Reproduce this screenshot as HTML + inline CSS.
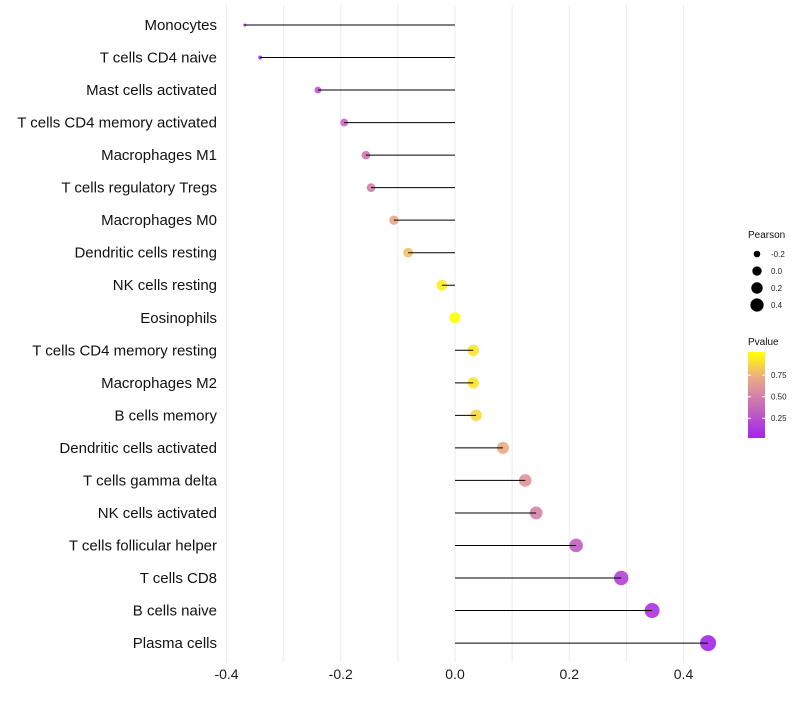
<!DOCTYPE html>
<html><head><meta charset="utf-8"><style>
body{margin:0;background:#fff;font-family:"Liberation Sans",sans-serif}
svg text{font-family:"Liberation Sans",sans-serif}
</style></head><body>
<svg id="chart" width="800" height="700" xmlns="http://www.w3.org/2000/svg">
<g id="grid"></g>
<g id="dots"></g>
<g id="marks"></g>
<g id="ylab"></g>
<g id="xlab"></g>
<g id="legend"></g>
</svg>
<script>
const categories=["Monocytes","T cells CD4 naive","Mast cells activated","T cells CD4 memory activated","Macrophages M1","T cells regulatory  Tregs","Macrophages M0","Dendritic cells resting","NK cells resting","Eosinophils","T cells CD4 memory resting","Macrophages M2","B cells memory","Dendritic cells activated","T cells gamma delta","NK cells activated","T cells follicular helper","T cells CD8","B cells naive","Plasma cells"];
const pearson=[-0.368,-0.341,-0.240,-0.194,-0.156,-0.147,-0.107,-0.082,-0.023,0.0,0.032,0.032,0.037,0.084,0.123,0.142,0.212,0.291,0.345,0.443];
const pvalues=[0.03,0.08,0.3,0.38,0.45,0.5,0.7,0.8,0.95,1.0,0.92,0.92,0.88,0.72,0.6,0.52,0.32,0.18,0.1,0.03];
const xTicks=[-0.4,-0.2,0.0,0.2,0.4];
const xTickLabels=["-0.4","-0.2","0.0","0.2","0.4"];
const legendSizes=[-0.2,0.0,0.2,0.4];
const legendSizeLabels=["-0.2","0.0","0.2","0.4"];
const legendP=[0.25,0.50,0.75];
const legendPLabels=["0.25","0.50","0.75"];

const NS="http://www.w3.org/2000/svg";
const x=v=>455+v*571.25;
const y=i=>25+i*32.53;
const r=v=>Math.sqrt(Math.max(1.5,2.25+76*(v+0.368)));
function col(p){
  const stops=[[0,[160,32,240]],[0.5,[210,128,170]],[0.75,[238,176,128]],[1,[255,255,0]]];
  p=Math.max(0,Math.min(1,p));
  for(let k=1;k<stops.length;k++){if(p<=stops[k][0]){const a=stops[k-1],b=stops[k];const t=(p-a[0])/(b[0]-a[0]);
    const c=a[1].map((v,j)=>Math.round(v+(b[1][j]-v)*t));return `rgb(${c})`;}}
  return "rgb(255,255,0)";
}
function mk(tag,attrs,parent,txt){const e=document.createElementNS(NS,tag);for(const k in attrs)e.setAttribute(k,attrs[k]);if(txt!==undefined)e.textContent=txt;parent.appendChild(e);return e;}
const G=document.getElementById('grid'),D=document.getElementById('dots'),M=document.getElementById('marks'),YL=document.getElementById('ylab'),XL=document.getElementById('xlab'),L=document.getElementById('legend');
for(let v=-0.4;v<=0.41;v+=0.1){
  const e=mk('line',{x1:x(v),x2:x(v),y1:5,y2:662,stroke:'#ebebeb','stroke-width':1},G);
  
  
}
xTicks.forEach((t,i)=>{
  const e=mk('text',{x:x(t),y:679,'text-anchor':'middle','font-size':14,fill:'#1a1a1a'},XL,xTickLabels[i]);
  
  
});
categories.forEach((c,i)=>{
  const t=mk('text',{x:217,y:y(i)+5,'text-anchor':'end','font-size':15,fill:'#111'},YL,c);
  
  
  const d=mk('circle',{cx:x(pearson[i]),cy:y(i),r:r(pearson[i]),fill:col(pvalues[i]),'fill-opacity':0.9},D);
  
  
  const ln=mk('line',{x1:x(0),x2:x(pearson[i]),y1:y(i),y2:y(i),stroke:'#000','stroke-width':1},M);
  
  
});
mk('text',{x:748,y:238,'font-size':10,fill:'#111'},L,'Pearson');
legendSizes.forEach((v,i)=>{
  const cy=254+i*17;
  const c=mk('circle',{cx:757,cy:cy,r:r(v)*0.85,fill:'#000'},L);
  
  
  mk('text',{x:771,y:cy+3,'font-size':8,fill:'#222'},L,legendSizeLabels[i]);
});
mk('text',{x:748,y:345,'font-size':10,fill:'#111'},L,'Pvalue');
const defs=mk('defs',{},L);
const lg=mk('linearGradient',{id:'pg',x1:0,y1:1,x2:0,y2:0},defs);
for(let s=0;s<=10;s++){mk('stop',{offset:s/10,'stop-color':col(0.02+s/10*1.0)},lg);}
const bar=mk('rect',{x:748,y:352,width:17,height:86,fill:'url(#pg)'},L);


const py=p=>438-(p-0.02)/1.0*86;
legendP.forEach((p,i)=>{
  mk('line',{x1:748,x2:751,y1:py(p),y2:py(p),stroke:'#fff'},L);
  mk('line',{x1:762,x2:765,y1:py(p),y2:py(p),stroke:'#fff'},L);
  mk('text',{x:771,y:py(p)+3,'font-size':8,fill:'#222'},L,legendPLabels[i]);
});
</script>
</body></html>
